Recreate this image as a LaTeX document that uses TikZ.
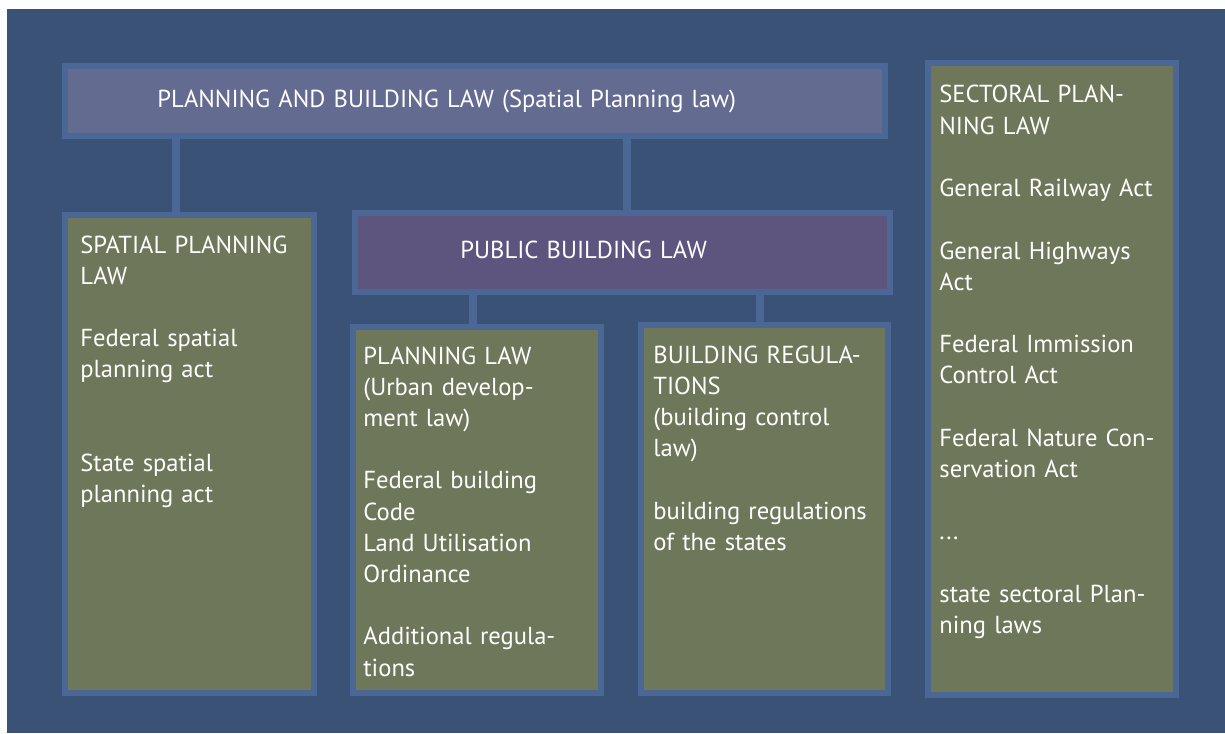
\documentclass[tikz,border=0pt]{standalone}
\usepackage{fontspec}
\setmainfont{PT Sans}
\usetikzlibrary{positioning}

\definecolor{bgblue}{RGB}{58,82,117}
\definecolor{edgeblue}{RGB}{74,103,150}
\definecolor{topfill}{RGB}{100,107,145}
\definecolor{pubfill}{RGB}{94,85,127}
\definecolor{lawfill}{RGB}{110,119,90}

\begin{document}
\begin{tikzpicture}[x=0.5pt, y=-0.5pt]
	\tikzset{box/.style={draw=edgeblue, line width=3pt, anchor=north west, inner sep=0pt},
	txt/.style={text=white, anchor=base west, align=left, inner sep=0pt, text width=120pt,
		font=\fontsize{12.3}{15.6}\selectfont},
	conn/.style={draw=edgeblue, line width=4pt}};

	\useasboundingbox (0,0) rectangle (1225,733);
	\fill[bgblue] (7,9) rectangle (1225,733);

	% boxes
	\node[box, fill=topfill, minimum width=410pt, minimum height=35pt] (pbl) at (62,63) {};
	\node[box, fill=lawfill, minimum width=124.5pt, minimum height=239pt] (sp) at (62,212) {};
	\node[box, fill=pubfill, minimum width=267.5pt, minimum height=39.5pt] (pub) at (352,210) {};
	\node[box, fill=lawfill, minimum width=124pt, minimum height=183pt] (pl) at (350,324) {};
	\node[box, fill=lawfill, minimum width=123.5pt, minimum height=184pt] (br) at (638,322) {};
	\node[box, fill=lawfill, minimum width=124pt, minimum height=316pt] (sec) at (925,60) {};

	% texts
	\node[txt, text width=300pt] (pblt) at (157,107) {PLANNING AND BUILDING LAW (Spatial Planning law)};
	\node[txt, text width=200pt] (pubt) at (460,258) {PUBLIC BUILDING LAW};
	\node[txt] (spt) at (80,253) {SPATIAL PLANNING\\LAW\\[15.6pt]
		Federal spatial\\planning act\\[31.2pt]
		State spatial\\planning act};
	\node[txt] (plt) at (363,364) {PLANNING LAW\\(Urban develop-\\ment law)\\[15.6pt]
		Federal building\\Code\\Land Utilisation\\Ordinance\\[15.6pt]
		Additional regula-\\tions};
	\node[txt] (brt) at (653,363) {BUILDING REGULA-\\TIONS\\(building control\\law)\\[15.6pt]
		building regulations\\of the states};
	\node[txt] (sect) at (939,103) {SECTORAL PLAN-\\NING LAW\\[15.6pt]
		General Railway Act\\[15.6pt]
		General Highways\\Act\\[15.6pt]
		Federal Immission\\Control Act\\[15.6pt]
		Federal Nature Con-\\servation Act\\[15.6pt]
		...\\[15.6pt]
		state sectoral Plan-\\ning laws};

	% connectors
	\draw[conn] ([xshift=-6.75pt]sp.north) -- ([xshift=-6.75pt]sp.north |- pbl.south);
	\draw[conn] ([xshift=2.25pt]pub.north) -- ([xshift=2.25pt]pub.north |- pbl.south);
	\draw[conn] ([xshift=-2.25pt]pl.north) -- ([xshift=-2.25pt]pl.north |- pub.south);
	\draw[conn] ([xshift=-2.25pt]br.north) -- ([xshift=-2.25pt]br.north |- pub.south);
\end{tikzpicture}
\end{document}
